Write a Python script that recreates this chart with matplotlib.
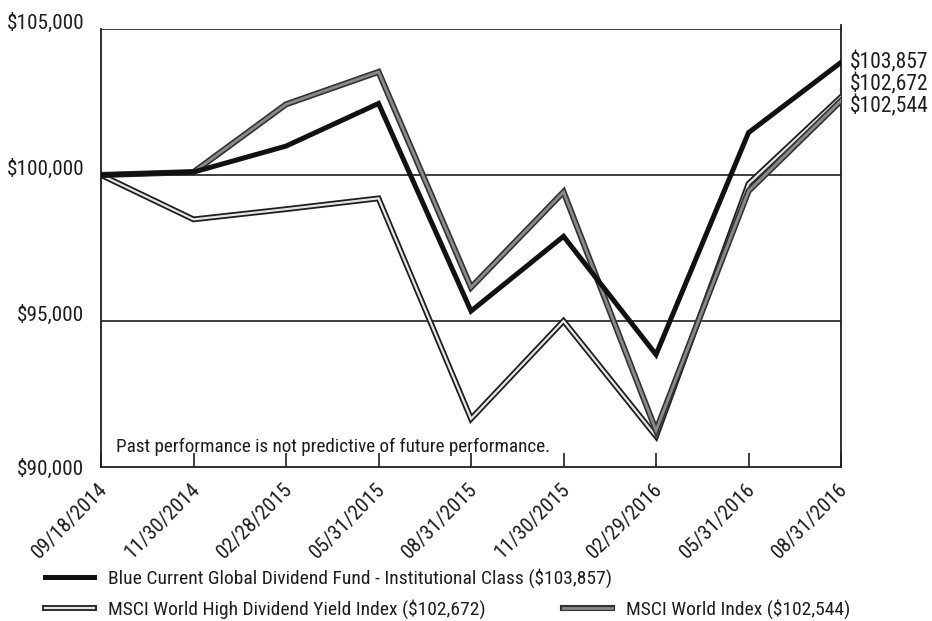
import matplotlib
matplotlib.use("Agg")
import matplotlib.pyplot as plt
import matplotlib.patheffects as pe
from matplotlib.transforms import ScaledTranslation

plt.rcParams['font.family'] = ['Roboto Condensed', 'Archivo Narrow', 'Liberation Sans', 'DejaVu Sans']

dates = ["09/18/2014", "11/30/2014", "02/28/2015", "05/31/2015", "08/31/2015",
         "11/30/2015", "02/29/2016", "05/31/2016", "08/31/2016"]
fund = [100000, 100100, 100990, 102450, 95340, 97900, 93850, 101450, 103857]
msci_world = [100000, 100100, 102420, 103530, 96150, 99420, 91250, 99450, 102544]
msci_hdy = [100000, 98480, 98830, 99200, 91650, 95000, 91050, 99700, 102672]

fund_label = "Blue Current Global Dividend Fund - Institutional Class ($103,857)"
hdy_label = "MSCI World High Dividend Yield Index ($102,672)"
world_label = "MSCI World Index ($102,544)"
end_labels = ["$103,857", "$102,672", "$102,544"]
yticks = [90000, 95000, 100000, 105000]
ytick_labels = ["$90,000", "$95,000", "$100,000", "$105,000"]
note = "Past performance is not predictive of future performance."

TXT = '#1e1e1e'

fig = plt.figure(figsize=(9.32, 6.21), dpi=100)
ax = fig.add_axes([0.1084, 0.248, 0.794, 0.7053])

x = list(range(len(dates)))
ax.set_xlim(0, len(dates) - 1)
ax.set_ylim(90000, 105000)

for yv in [95000, 100000, 105000]:
    ax.axhline(yv, color=TXT, lw=1.2, zorder=1)

l_hdy, = ax.plot(x, msci_hdy, color='#e6e6e6', lw=1.6, solid_joinstyle='miter',
                 path_effects=[pe.Stroke(linewidth=4.2, foreground=TXT), pe.Normal()],
                 zorder=3, label=hdy_label)
l_world, = ax.plot(x, msci_world, color='#8a8a8a', lw=2.0, solid_joinstyle='miter',
                   path_effects=[pe.Stroke(linewidth=4.4, foreground='#333333'), pe.Normal()],
                   zorder=4, label=world_label)
l_fund, = ax.plot(x, fund, color='#111111', lw=3.6, solid_joinstyle='miter',
                  zorder=5, label=fund_label)

for s in ['left', 'bottom', 'right']:
    ax.spines[s].set_linewidth(1.3)
    ax.spines[s].set_color(TXT)
ax.spines['top'].set_visible(False)

ax.set_yticks(yticks)
ax.set_yticklabels(ytick_labels, fontsize=15.3, color=TXT)
ax.tick_params(axis='y', length=0, pad=12)
for lab, v in zip(ax.get_yticklabels(), yticks):
    if v != 90000:
        lab.set_transform(lab.get_transform() + ScaledTranslation(0, 8 / 100, fig.dpi_scale_trans))

ax.set_xticks(x)
ax.set_xticklabels(dates, fontsize=15, rotation=45, ha='right', va='top',
                   rotation_mode='anchor', color=TXT)
ax.tick_params(axis='x', direction='in', length=10, width=1.2, color=TXT, pad=9)
for lab in ax.get_xticklabels():
    lab.set_transform(lab.get_transform() + ScaledTranslation(-3 / 100, 0, fig.dpi_scale_trans))

ax.text(0.163, 90500, note, fontsize=13.8, color=TXT, va='baseline', ha='left')

# right end labels
for i, t in enumerate(end_labels):
    fig.text(850 / 932, 1 - (62 + 22 * i) / 621, t, fontsize=15.5, color=TXT,
             va='center', ha='left')

# right spine extends slightly above the top
ax.plot([1, 1], [1, 1.01], transform=ax.transAxes, color=TXT, lw=1.3, clip_on=False)

def add_leg(handle, label, xpx, ypx):
    lg = fig.legend([handle], [label], loc='center left',
                    bbox_to_anchor=(xpx / 932, 1 - ypx / 621), frameon=False,
                    fontsize=14, handlelength=2.5, handletextpad=0.75,
                    borderpad=0, borderaxespad=0)
    for t in lg.get_texts():
        t.set_color(TXT)
    return lg

add_leg(l_fund, fund_label, 45, 578)
add_leg(l_hdy, hdy_label, 45, 609)
add_leg(l_world, world_label, 563, 609)

fig.savefig("out.png", dpi=100)
